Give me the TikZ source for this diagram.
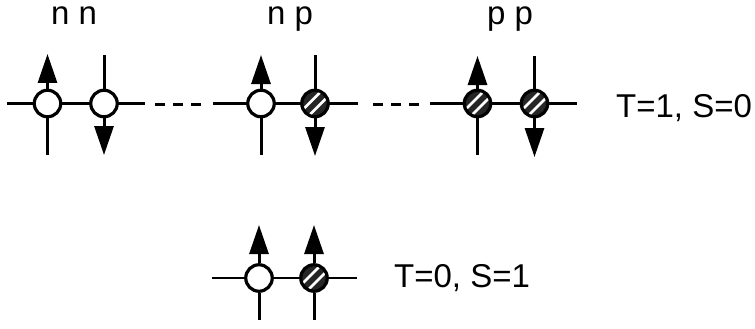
\documentclass[tikz,border=0pt]{standalone}
\usepackage{fontspec}
\setmainfont{Liberation Sans}
\usetikzlibrary{arrows.meta}

\tikzset{
  nuc/.style={circle, draw, line width=3.2pt, minimum size=26.5pt, inner sep=0pt, fill=white},
  prot/.style={nuc, path picture={
      \fill[black!85] (path picture bounding box.south west) rectangle (path picture bounding box.north east);
      \begin{scope}[shift={(path picture bounding box.center)}]
        \draw[white, line width=2.8pt] (-13.5,7.5) -- (7.5,-13.5);
        \draw[white, line width=2.8pt] (-7.5,13.5) -- (13.5,-7.5);
      \end{scope}}},
  axisline/.style={line width=2.2pt},
  stemline/.style={line width=3pt},
  spin/.style={stemline, -{Triangle[length=29pt,width=19pt]}},
  gapline/.style={line width=3pt, dash pattern=on 10pt off 8pt},
  lbl/.style={font=\fontsize{33}{36}\selectfont, inner sep=0pt}
}

\begin{document}
\begin{tikzpicture}[x=1pt, y=-1pt]
  \path[use as bounding box] (0,0) rectangle (755,329);

  % horizontal axes of the three pairs (upper row) and the single pair (lower row)
  \coordinate (l1) at (7,103.5);   \coordinate (r1) at (145,103.5);
  \coordinate (l2) at (213,103.5); \coordinate (r2) at (358,103.5);
  \coordinate (l3) at (430,103.5); \coordinate (r3) at (577,103.5);
  \coordinate (l4) at (212,278);   \coordinate (r4) at (357,278);
  \draw[axisline] (l1) -- (r1);
  \draw[axisline] (l2) -- (r2);
  \draw[axisline] (l3) -- (r3);
  \draw[axisline] (l4) -- (r4);

  % dashed links between the pairs
  \coordinate (d1a) at (155,104); \coordinate (d1b) at (202,104);
  \coordinate (d2a) at (373,104); \coordinate (d2b) at (420,104);
  \draw[gapline] (d1a) -- (d1b);
  \draw[gapline] (d2a) -- (d2b);

  % nucleons: open = neutron, hatched = proton
  \node[nuc]  (n1) at (47.5,103.5) {};
  \node[nuc]  (n2) at (104,103.5) {};
  \node[nuc]  (n3) at (261,103.5) {};
  \node[prot] (p4) at (315,103.5) {};
  \node[prot] (p5) at (477.5,103.5) {};
  \node[prot] (p6) at (534.5,103.5) {};
  \node[nuc]  (n7) at (259,278) {};
  \node[prot] (p8) at (314,278) {};

  % spin ends
  \coordinate (n1t) at (47.5,54);  \coordinate (n1b) at (47.5,155);
  \coordinate (n2t) at (104,55);   \coordinate (n2b) at (104,155);
  \coordinate (n3t) at (261,55);   \coordinate (n3b) at (261,155);
  \coordinate (p4t) at (315,55);   \coordinate (p4b) at (315,156);
  \coordinate (p5t) at (477.5,56); \coordinate (p5b) at (477.5,155);
  \coordinate (p6t) at (534.5,56); \coordinate (p6b) at (534.5,157);
  \coordinate (n7t) at (259,225);  \coordinate (n7b) at (259,320);
  \coordinate (p8t) at (314,225);  \coordinate (p8b) at (314,320);

  % spin up
  \draw[spin] (n1.north) -- (n1t);  \draw[stemline] (n1.south) -- (n1b);
  \draw[spin] (n3.north) -- (n3t);  \draw[stemline] (n3.south) -- (n3b);
  \draw[spin] (p5.north) -- (p5t);  \draw[stemline] (p5.south) -- (p5b);
  \draw[spin] (n7.north) -- (n7t);  \draw[stemline] (n7.south) -- (n7b);
  \draw[spin] (p8.north) -- (p8t);  \draw[stemline] (p8.south) -- (p8b);
  % spin down
  \draw[stemline] (n2.north) -- (n2t);  \draw[spin] (n2.south) -- (n2b);
  \draw[stemline] (p4.north) -- (p4t);  \draw[spin] (p4.south) -- (p4b);
  \draw[stemline] (p6.north) -- (p6t);  \draw[spin] (p6.south) -- (p6b);

  % labels
  \node[lbl, anchor=base] (lnn) at (74,25) {n n};
  \node[lbl, anchor=base] (lnp) at (290,25) {n p};
  \node[lbl, anchor=base] (lpp) at (510,25) {p p};
  \node[lbl, anchor=base west] (t1) at (616,117) {T=1, S=0};
  \node[lbl, anchor=base west] (t0) at (394,287) {T=0, S=1};
\end{tikzpicture}
\end{document}
